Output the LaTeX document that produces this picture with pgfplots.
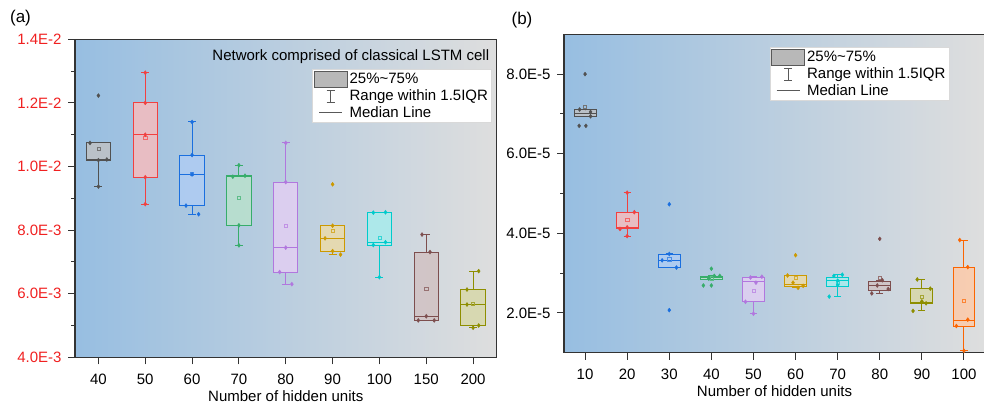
\documentclass[border=0pt]{standalone}
\usepackage{pgfplots}
\pgfplotsset{compat=1.18}
\usepgfplotslibrary{statistics}
\usepackage{fontspec}
\setmainfont{Liberation Sans}
\newcommand{\f}{\fontsize{15}{17}\selectfont}
\definecolor{cA}{HTML}{515151}
\definecolor{cB}{HTML}{F14040}
\definecolor{cC}{HTML}{1A6FDF}
\definecolor{cD}{HTML}{37AD6B}
\definecolor{cE}{HTML}{B177DE}
\definecolor{cF}{HTML}{CC9900}
\definecolor{cG}{HTML}{00CBCC}
\definecolor{cH}{HTML}{7D4E4E}
\definecolor{cI}{HTML}{8E8E00}
\definecolor{cJ}{HTML}{FB6501}
\definecolor{bgL}{HTML}{97BEE1}
\definecolor{bgR}{HTML}{DEDEDE}
\definecolor{tickred}{HTML}{F02020}
% color, pos, lw, lq, med, uq, uw, mean
\newcommand{\bx}[8]{%
 \addplot[forget plot, draw=#1, fill=#1!35!white, fill opacity=0.8, line width=1pt, solid, mark=none,
   boxplot/draw direction=y,
   boxplot prepared={draw position=#2, lower whisker=#3, lower quartile=#4, median=#5,
   upper quartile=#6, upper whisker=#7, box extend=0.52, whisker extend=0.17}] coordinates {};
 \addplot[forget plot, only marks, mark=square, mark size=1.6pt, mark options={draw=#1!80!white, line width=0.5pt, fill=none}] coordinates {(#2,#8)};
}
\newcommand{\pts}[2]{\addplot[forget plot, only marks, mark=diamond*, mark size=2pt, color=#1] coordinates {#2};}
\newcommand{\mylegend}{%
\addlegendimage{legend image code/.code={\draw[fill=black!28, draw=black!65, line width=0.8pt] (0pt,-8pt) rectangle (33pt,8pt);}}
\addlegendentry{25\%\textasciitilde 75\%}
\addlegendimage{legend image code/.code={\draw[black!65, line width=0.8pt] (16.5pt,-6pt)--(16.5pt,6pt) (12.5pt,-6pt)--(20.5pt,-6pt) (12.5pt,6pt)--(20.5pt,6pt); \path[draw=none] (0pt,0pt)--(33pt,0pt);}}
\addlegendentry{Range within 1.5IQR}
\addlegendimage{legend image code/.code={\draw[black!65, line width=0.8pt] (5pt,0pt)--(28pt,0pt); \path[draw=none] (0pt,0pt)--(33pt,0pt);}}
\addlegendentry{Median Line}
}
\pgfplotsset{
  myax/.style={
    scale only axis,
    axis background/.style={left color=bgL, right color=bgR},
    axis line style={black!80, line width=1.3pt},
    tick align=outside, tick pos=left,
    major tick length=7pt, minor tick length=4pt,
    every tick/.style={black!80, line width=1pt},
    minor y tick num=1,
    scaled y ticks=false,
    tick label style={font=\f},
    xticklabel style={yshift=-6pt},
    yticklabel style={xshift=-3pt},
    /pgf/number format/assume math mode=true,
    label style={font=\f},
    xlabel style={yshift=1pt},
    xlabel={Number of hidden units},
    legend style={draw=black!15, fill=white, font=\f, inner sep=1.5pt, row sep=0pt, cells={anchor=west}},
    legend cell align=left,
  }
}
\begin{document}
\begin{tikzpicture}
\useasboundingbox (0pt,0pt) rectangle (984pt,405pt);
\node[font=\fontsize{17}{19}\selectfont] at (20.5pt,387pt) {(a)};
\node[font=\fontsize{17}{19}\selectfont] at (522pt,385pt) {(b)};
% ---------------- panel (a): values in units of 1E-3
\begin{axis}[myax,
  at={(75pt,47.7pt)}, anchor=south west,
  width=421.5pt, height=318pt,
  xmin=-0.5, xmax=8.5, ymin=4, ymax=14,
  xtick={0,...,8}, xticklabels={40,50,60,70,80,90,100,150,200},
  ytick={4,6,8,10,12,14},
  yticklabels={4.0E-3,6.0E-3,8.0E-3,1.0E-2,1.2E-2,1.4E-2},
  yticklabel style={text=tickred},
  legend style={at={(0.9886,0.9057)}, anchor=north east},
]
\mylegend
\bx{cA}{0}{9.37}{10.19}{10.22}{10.74}{10.74}{10.57}
\bx{cB}{1}{8.82}{9.66}{11.00}{12.00}{12.95}{10.90}
\bx{cC}{2}{8.50}{8.77}{9.75}{10.36}{11.40}{9.76}
\bx{cD}{3}{7.52}{8.15}{9.68}{9.71}{10.04}{9.02}
\bx{cE}{4}{6.30}{6.68}{7.45}{9.51}{10.74}{8.14}
\bx{cF}{5}{7.23}{7.34}{7.74}{8.14}{8.14}{7.98}
\bx{cG}{6}{6.52}{7.53}{7.62}{8.56}{8.56}{7.76}
\bx{cH}{7}{5.16}{5.16}{5.29}{7.31}{7.86}{6.16}
\bx{cI}{8}{4.93}{5.00}{5.66}{6.13}{6.71}{5.69}

\pts{cA}{(-0.18,10.74) (0,10.20) (0.18,10.22) (0,9.37) (0,12.23)}
\pts{cB}{(1,12.95) (1,12.00) (1,11.00) (1,9.66) (1,8.82)}
\pts{cC}{(2,11.40) (2,10.36) (2,9.75) (1.87,8.77) (2.14,8.50)}
\pts{cD}{(3,10.04) (3.13,9.71) (2.87,9.68) (3,8.15) (3,7.52)}
\pts{cE}{(4,10.74) (4,9.51) (4,7.45) (3.87,6.68) (4.13,6.30)}
\pts{cF}{(5,9.44) (5,8.14) (4.84,7.74) (5,7.34) (5.17,7.23)}
\pts{cG}{(6.13,8.56) (5.87,8.55) (6.13,7.62) (5.87,7.53) (6,6.52)}
\pts{cH}{(6.91,7.86) (7.08,7.31) (7,5.29) (6.83,5.16) (7.17,5.16)}
\pts{cI}{(8.12,6.71) (7.87,6.13) (7.87,5.66) (8.12,5.00) (8,4.93)}

\node[anchor=base east, font=\f] at (rel axis cs:0.991,0.9327) {Network comprised of classical LSTM cell};
\end{axis}
% ---------------- panel (b): values in units of 1E-5
\begin{axis}[myax,
  at={(564pt,52.3pt)}, anchor=south west,
  width=421pt, height=318.4pt,
  xmin=-0.5, xmax=9.5, ymin=1, ymax=9,
  xtick={0,...,9}, xticklabels={10,20,30,40,50,60,70,80,90,100},
  ytick={2,4,6,8},
  yticklabels={2.0E-5,4.0E-5,6.0E-5,8.0E-5},
  legend style={at={(0.915,0.959)}, anchor=north east},
]
\mylegend
\bx{cA}{0}{6.94}{6.94}{7.02}{7.10}{7.11}{7.17}
\bx{cB}{1}{3.93}{4.11}{4.15}{4.53}{5.02}{4.35}
\bx{cC}{2}{3.14}{3.14}{3.32}{3.47}{3.48}{3.35}
\bx{cD}{3}{2.84}{2.84}{2.88}{2.92}{2.93}{2.87}
\bx{cE}{4}{1.98}{2.28}{2.80}{2.89}{2.91}{2.55}
\bx{cF}{5}{2.63}{2.66}{2.72}{2.94}{2.94}{2.89}
\bx{cG}{6}{2.41}{2.66}{2.81}{2.89}{2.96}{2.76}
\bx{cH}{7}{2.49}{2.57}{2.69}{2.80}{2.82}{2.89}
\bx{cI}{8}{2.05}{2.24}{2.26}{2.61}{2.84}{2.41}
\bx{cJ}{9}{1.05}{1.67}{1.82}{3.15}{3.83}{2.30}

\pts{cA}{(0,8.00) (-0.13,7.11) (0.13,7.05) (0.13,6.94) (-0.14,6.70) (0.02,6.70)}
\pts{cB}{(1,5.02) (1.17,4.53) (1,4.15) (0.83,4.11) (1,3.93)}
\pts{cC}{(2,4.73) (2,3.48) (1.83,3.32) (2.17,3.14) (2,2.07)}
\pts{cD}{(3,3.11) (3.07,2.93) (3.2,2.93) (2.94,2.86) (2.81,2.69) (3,2.69)}
\pts{cE}{(4.2,2.91) (3.93,2.89) (4.06,2.76) (3.81,2.28) (4,1.98)}
\pts{cF}{(5,3.45) (4.81,2.94) (4.94,2.76) (5.18,2.68) (5.06,2.63)}
\pts{cG}{(6.11,2.96) (5.91,2.93) (6,2.81) (6,2.70) (5.8,2.41)}
\pts{cH}{(7,3.86) (7.06,2.82) (6.94,2.69) (7.2,2.60) (6.81,2.49)}
\pts{cI}{(7.89,2.84) (8.2,2.61) (8,2.29) (8.1,2.24) (7.79,2.05)}
\pts{cJ}{(8.9,3.83) (9.09,3.15) (9.09,1.83) (8.82,1.67) (9,1.05)}
\end{axis}
\end{tikzpicture}
\end{document}
